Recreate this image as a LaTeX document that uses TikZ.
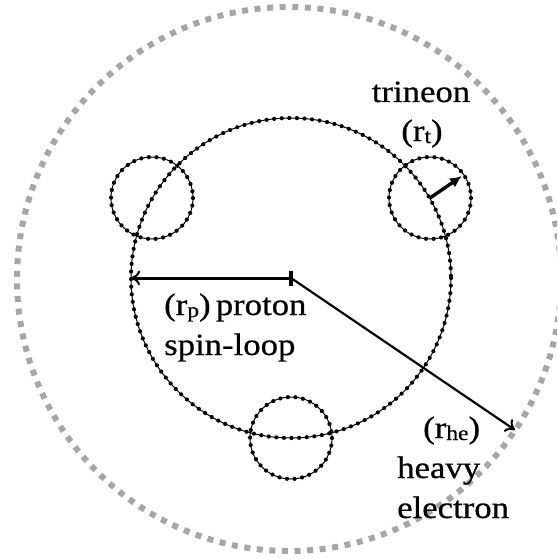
\documentclass[tikz,border=0pt]{standalone}
\usepackage{fontspec}
\setmainfont[FakeStretch=1.12,FakeBold=0.6]{Liberation Serif}
\usetikzlibrary{arrows.meta}
\newcommand{\lowsub}[1]{\raisebox{-2pt}{\fontsize{21}{21}\selectfont #1}}
\newcommand{\dotring}[2]{%
  \draw[line width=1pt] #1 circle (#2);
  \draw[line width=4.2pt, line cap=round, dash pattern=on 0pt off 7.6pt] #1 circle (#2);}
\tikzset{
  lbl/.style={font=\fontsize{31}{37}\selectfont, inner sep=0pt},
  shell/.style={line width=6pt, black!35, dash pattern=on 6pt off 6.6pt}
}

\begin{document}
\begin{tikzpicture}[x=1pt,y=-1pt]
\useasboundingbox (0,0) rectangle (557,559);
\clip (0,0) rectangle (557,559);
% heavy electron shell
\draw[shell] (289,279) circle (272);
% proton spin-loop and trineons
\coordinate (pc) at (291,278);
\coordinate (tl) at (152,198);
\coordinate (tr) at (430,198);
\coordinate (tb) at (291,438);
\dotring{(pc)}{160}
\dotring{(tl)}{41}
\dotring{(tr)}{41}
\dotring{(tb)}{41}
% radii
\coordinate (pl) at (131,278);
\coordinate (he) at (515,430);
\coordinate (te) at (462,176);
\draw[line width=3pt, -{To[length=9pt,width=15pt,line width=2pt]}] (pc) -- (pl);
\draw[line width=4pt] (291,271) -- (291,286);
\draw[line width=2.2pt, -{To[length=9pt,width=15pt,line width=2pt]}] (pc) -- (he);
\draw[line width=3.4pt, -{Latex[length=12pt,width=11pt]}] (tr) -- (te);
% labels
\node[lbl, anchor=base] (trin) at (421,102) {trineon};
\node[lbl, anchor=base] (rt) at (422,141) {(r\lowsub{t})};
\node[lbl, anchor=base west] (prot) at (164,315) {(r\lowsub{p})\,proton};
\node[lbl, anchor=base west] (spin) at (164,355) {spin-loop};
\node[lbl, anchor=base west] (rhe) at (423,438) {(r\lowsub{he})};
\node[lbl, anchor=base west] (heavy) at (397,478) {heavy};
\node[lbl, anchor=base west] (elec) at (397,518) {electron};
\end{tikzpicture}
\end{document}
